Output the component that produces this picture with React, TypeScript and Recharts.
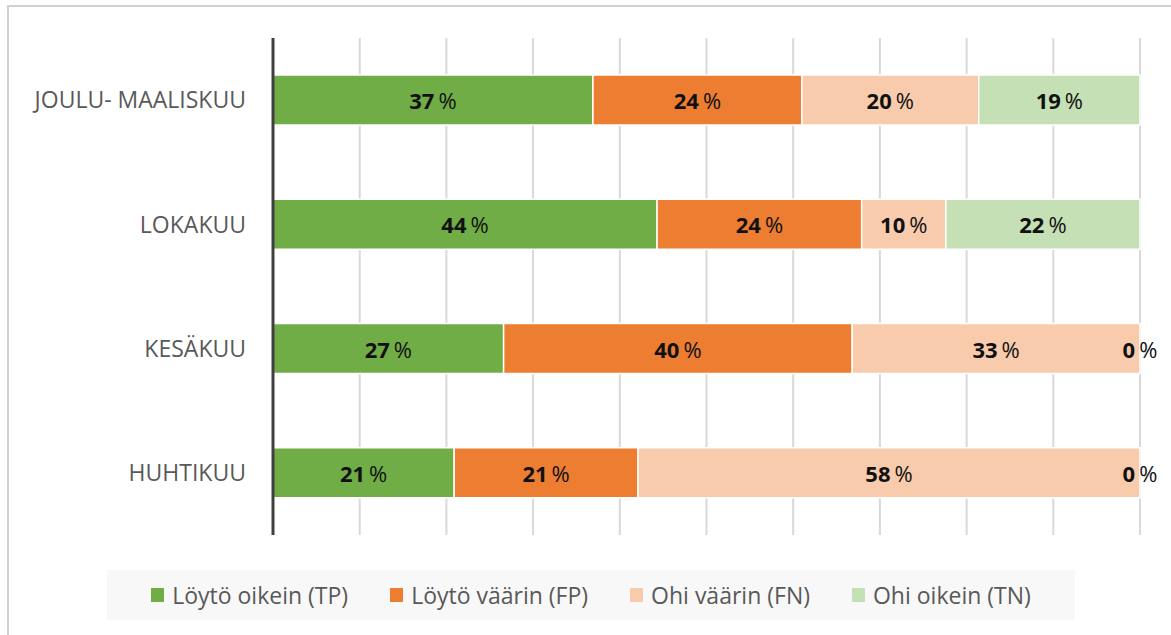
import React from 'react';
import { BarChart, Bar, XAxis, YAxis, CartesianGrid, LabelList } from 'recharts';

const categories = ['JOULU- MAALISKUU', 'LOKAKUU', 'KESÄKUU', 'HUHTIKUU'];
const tpValues = [36.9, 44.3, 26.6, 20.9];
const fpValues = [24.1, 23.6, 40.2, 21.2];
const fnValues = [20.4, 9.7, 33.2, 57.9];
const tnValues = [18.6, 22.4, 0, 0];
const gridTicks = [0, 10, 20, 30, 40, 50, 60, 70, 80, 90, 100];

const series = [
  { key: 'tp', name: 'Löytö oikein (TP)', color: '#70ad47' },
  { key: 'fp', name: 'Löytö väärin (FP)', color: '#ed7d31' },
  { key: 'fn', name: 'Ohi väärin (FN)', color: '#f8cbad' },
  { key: 'tn', name: 'Ohi oikein (TN)', color: '#c5e0b4' },
];

const data = categories.map((name, i) => ({
  name,
  tp: tpValues[i],
  fp: fpValues[i],
  fn: fnValues[i],
  tn: tnValues[i],
}));

const FONT = "'Open Sans', sans-serif";

const pctText = (cx: number, cy: number, value: number) => (
  <text x={cx} y={cy} textAnchor="middle" dominantBaseline="central" fontSize={22} fill="#111" fontFamily={FONT}>
    <tspan fontWeight={700}>{Math.round(value)}</tspan>
    <tspan fontWeight={400} dx={4}>%</tspan>
  </text>
);

const makeLabel = (seriesKey: string) => (props: any) => {
  const { x, y, width, height, value, index } = props;
  const left = Number(x);
  const w = Number(width);
  const cy = Number(y) + Number(height) / 2;
  const v = Number(value);
  if (!w && !v) return null;
  return (
    <g>
      {pctText(left + w / 2, cy, v)}
      {/* the TN segment has no width when it is 0, so its label sits at the end of FN */}
      {seriesKey === 'fn' && tnValues[index] === 0 ? pctText(left + w, cy, tnValues[index]) : null}
    </g>
  );
};

// vertical grid at every 10 %
const gridX = (args: any) => {
  const { xAxis, offset } = args;
  if (xAxis && typeof xAxis.scale === 'function') return gridTicks.map((t) => xAxis.scale(t));
  return gridTicks.map((t) => offset.left + (offset.width * t) / 100);
};

const App: React.FC = () => {
  return (
    <div style={{ position: 'fixed', left: 0, top: 0, width: 1171, height: 635, background: '#fff', fontFamily: FONT }}>
      <div style={{ position: 'absolute', left: 7, top: 5, width: 1180, height: 650, border: '2px solid #d0d0d0', boxSizing: 'border-box' }} />
      <BarChart
        width={1171}
        height={635}
        data={data}
        layout="vertical"
        barSize={50}
        margin={{ top: 38, right: 31, bottom: 100, left: 0 }}
        style={{ position: 'absolute', left: 0, top: 0 }}
      >
        <CartesianGrid horizontal={false} stroke="#d9d9d9" strokeWidth={2} verticalCoordinatesGenerator={gridX} />
        <XAxis type="number" domain={[0, 100]} ticks={gridTicks} height={0} tick={false} axisLine={false} tickLine={false} />
        <YAxis
          type="category"
          dataKey="name"
          width={273}
          tickLine={false}
          tickMargin={21}
          axisLine={{ stroke: '#404040', strokeWidth: 3 }}
          tick={{ fontSize: 23, fill: '#595959', fontFamily: FONT }}
        />
        {series.map((s) => (
          <Bar key={s.key} dataKey={s.key} name={s.name} stackId="a" fill={s.color} stroke="#fff" strokeWidth={1.5} isAnimationActive={false}>
            <LabelList dataKey={s.key} content={makeLabel(s.key)} />
          </Bar>
        ))}
      </BarChart>
      <div
        style={{
          position: 'absolute',
          left: 107,
          top: 570,
          width: 968,
          height: 50,
          background: '#f8f8f8',
          display: 'flex',
          alignItems: 'center',
          justifyContent: 'center',
          gap: 42,
          boxSizing: 'border-box',
        }}
      >
        {series.map((s) => (
          <div key={s.key} style={{ display: 'flex', alignItems: 'center', fontSize: 23, color: '#595959' }}>
            <span style={{ display: 'inline-block', width: 13, height: 14, background: s.color, marginRight: 8 }} />
            <span>{s.name}</span>
          </div>
        ))}
      </div>
    </div>
  );
};

export default App;
